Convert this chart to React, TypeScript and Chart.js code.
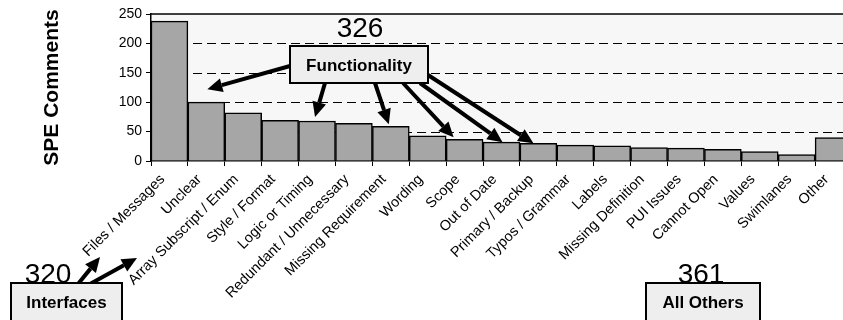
import React, { useEffect, useRef } from 'react';
import { Chart, registerables } from 'chart.js';

Chart.register(...registerables);

const categories = [
  'Files / Messages', 'Unclear', 'Array Subscript / Enum', 'Style / Format', 'Logic or Timing',
  'Redundant / Unnecessary', 'Missing Requirement', 'Wording', 'Scope', 'Out of Date',
  'Primary / Backup', 'Typos / Grammar', 'Labels', 'Missing Definition', 'PUI Issues',
  'Cannot Open', 'Values', 'Swimlanes', 'Other',
];
const speComments = [238, 100, 82, 69, 68, 64, 59, 43, 37, 32, 30, 27, 26, 23, 22, 20, 16, 11, 40];
const yTickValues = [0, 50, 100, 150, 200, 250];
const dashedGridValues = [50, 100, 150, 200];
const groupNames = ['Interfaces', 'Functionality', 'All Others'];
const groupTotals = [320, 326, 361];
const functionalityBars = [1, 4, 6, 8, 9, 10];

const FONT = "'Liberation Sans', Arial, sans-serif";

function drawArrow(ctx: CanvasRenderingContext2D, x1: number, y1: number, x2: number, y2: number) {
  const ang = Math.atan2(y2 - y1, x2 - x1);
  const headLen = 15;
  const headW = 7;
  const bx = x2 - headLen * Math.cos(ang);
  const by = y2 - headLen * Math.sin(ang);
  ctx.save();
  ctx.strokeStyle = '#000';
  ctx.fillStyle = '#000';
  ctx.lineWidth = 4;
  ctx.lineCap = 'butt';
  ctx.beginPath();
  ctx.moveTo(x1, y1);
  ctx.lineTo(bx, by);
  ctx.stroke();
  ctx.beginPath();
  ctx.moveTo(x2, y2);
  ctx.lineTo(bx + headW * Math.sin(ang), by - headW * Math.cos(ang));
  ctx.lineTo(bx - headW * Math.sin(ang), by + headW * Math.cos(ang));
  ctx.closePath();
  ctx.fill();
  ctx.restore();
}

function drawBox(ctx: CanvasRenderingContext2D, x: number, y: number, w: number, h: number, label: string) {
  ctx.save();
  ctx.fillStyle = '#eeeeee';
  ctx.fillRect(x, y, w, h);
  ctx.strokeStyle = '#000';
  ctx.lineWidth = 2;
  ctx.strokeRect(x, y, w, h);
  ctx.fillStyle = '#000';
  ctx.font = `bold 17px ${FONT}`;
  ctx.textAlign = 'center';
  ctx.textBaseline = 'middle';
  ctx.fillText(label, x + w / 2, y + 20);
  ctx.restore();
}

const backgroundPlugin = {
  id: 'bgGrid',
  beforeDraw(chart: any) {
    const { ctx, chartArea } = chart;
    ctx.save();
    ctx.fillStyle = '#f7f7f7';
    ctx.fillRect(chartArea.left, chartArea.top, chartArea.right - chartArea.left, chartArea.bottom - chartArea.top);
    ctx.restore();
  },
  beforeDatasetsDraw(chart: any) {
    const { ctx, chartArea, scales } = chart;
    const y = scales.y;
    ctx.save();
    ctx.strokeStyle = '#000';
    ctx.lineWidth = 1;
    ctx.setLineDash([9, 5]);
    dashedGridValues.forEach((v) => {
      const py = Math.round(y.getPixelForValue(v)) + 0.5;
      ctx.beginPath();
      ctx.moveTo(chartArea.left, py);
      ctx.lineTo(chartArea.right, py);
      ctx.stroke();
    });
    ctx.setLineDash([]);
    ctx.lineWidth = 1.5;
    const top = y.getPixelForValue(250);
    ctx.beginPath();
    ctx.moveTo(chartArea.left, top);
    ctx.lineTo(chartArea.right, top);
    ctx.stroke();
    ctx.restore();
  },
};

const annotationPlugin = {
  id: 'groups',
  afterDraw(chart: any) {
    const { ctx, scales } = chart;
    const x = scales.x;
    const y = scales.y;

    // Functionality group
    ctx.save();
    ctx.fillStyle = '#000';
    ctx.font = `28px ${FONT}`;
    ctx.textAlign = 'center';
    ctx.textBaseline = 'alphabetic';
    ctx.fillText(String(groupTotals[1]), 360, 37);
    ctx.restore();

    const starts = [[290, 66], [325, 83], [375, 83], [403, 83], [420, 83], [428, 75]];
    const tipAdj = [[1, 13], [-2, 4], [-2, 2], [-11, 2], [1, 0], [-5, 0]];
    functionalityBars.forEach((idx, k) => {
      const tx = x.getPixelForValue(idx) + tipAdj[k][0];
      const ty = y.getPixelForValue(speComments[idx]) - tipAdj[k][1];
      drawArrow(ctx, starts[k][0], starts[k][1], tx, ty);
    });
    drawBox(ctx, 290, 46, 138, 37, groupNames[1]);

    // Interfaces group
    ctx.save();
    ctx.fillStyle = '#000';
    ctx.font = `28px ${FONT}`;
    ctx.textAlign = 'center';
    ctx.fillText(String(groupTotals[0]), 48, 283);
    ctx.fillText(String(groupTotals[2]), 701, 283);
    ctx.restore();
    drawArrow(ctx, 78, 284, 100, 257);
    drawArrow(ctx, 90, 284, 137, 258);
    drawBox(ctx, 11, 283, 111, 45, groupNames[0]);

    // All others
    drawBox(ctx, 646, 283, 114, 45, groupNames[2]);
  },
};

export default function App() {
  const canvasRef = useRef<HTMLCanvasElement | null>(null);

  useEffect(() => {
    if (!canvasRef.current) return;
    const chart = new Chart(canvasRef.current, {
      type: 'bar',
      data: {
        labels: categories,
        datasets: [
          {
            data: speComments,
            backgroundColor: '#a6a6a6',
            borderColor: '#000',
            borderWidth: 1.5,
            barPercentage: 1,
            categoryPercentage: 1,
          },
        ],
      },
      options: {
        responsive: false,
        animation: false,
        layout: { padding: { top: 14, right: 8, left: 0, bottom: 0 } },
        plugins: { legend: { display: false }, tooltip: { enabled: false } },
        scales: {
          x: {
            offset: true,
            grid: {
              offset: true,
              drawOnChartArea: false,
              drawTicks: true,
              tickLength: 5,
              tickColor: '#000',
              tickWidth: 1,
            },
            border: { display: true, color: '#000', width: 1.5 },
            ticks: {
              color: '#000',
              font: { family: FONT, size: 14.5 },
              minRotation: 45,
              maxRotation: 45,
              autoSkip: false,
              padding: 5,
              labelOffset: -7,
            },
            afterFit: (scale: any) => {
              scale.height = 159;
            },
          },
          y: {
            min: 0,
            max: 250,
            afterBuildTicks: (scale: any) => {
              scale.ticks = yTickValues.map((v) => ({ value: v }));
            },
            grid: {
              drawOnChartArea: false,
              drawTicks: true,
              tickLength: 5,
              tickColor: '#000',
            },
            border: { display: true, color: '#000', width: 1.5 },
            ticks: {
              color: '#000',
              font: { family: FONT, size: 14 },
              padding: 4,
            },
            title: {
              display: true,
              text: 'SPE Comments',
              color: '#000',
              font: { family: FONT, size: 21, weight: 'bold' },
              padding: { top: 40, bottom: 0 },
            },
            afterFit: (scale: any) => {
              scale.width = 151;
            },
          },
        },
      },
      plugins: [backgroundPlugin, annotationPlugin],
    });
    return () => chart.destroy();
  }, []);

  return (
    <div style={{ position: 'fixed', left: 0, top: 0, width: 843, height: 320, overflow: 'hidden', background: '#fff' }}>
      <canvas ref={canvasRef} width={860} height={320} style={{ display: 'block' }} />
    </div>
  );
}
